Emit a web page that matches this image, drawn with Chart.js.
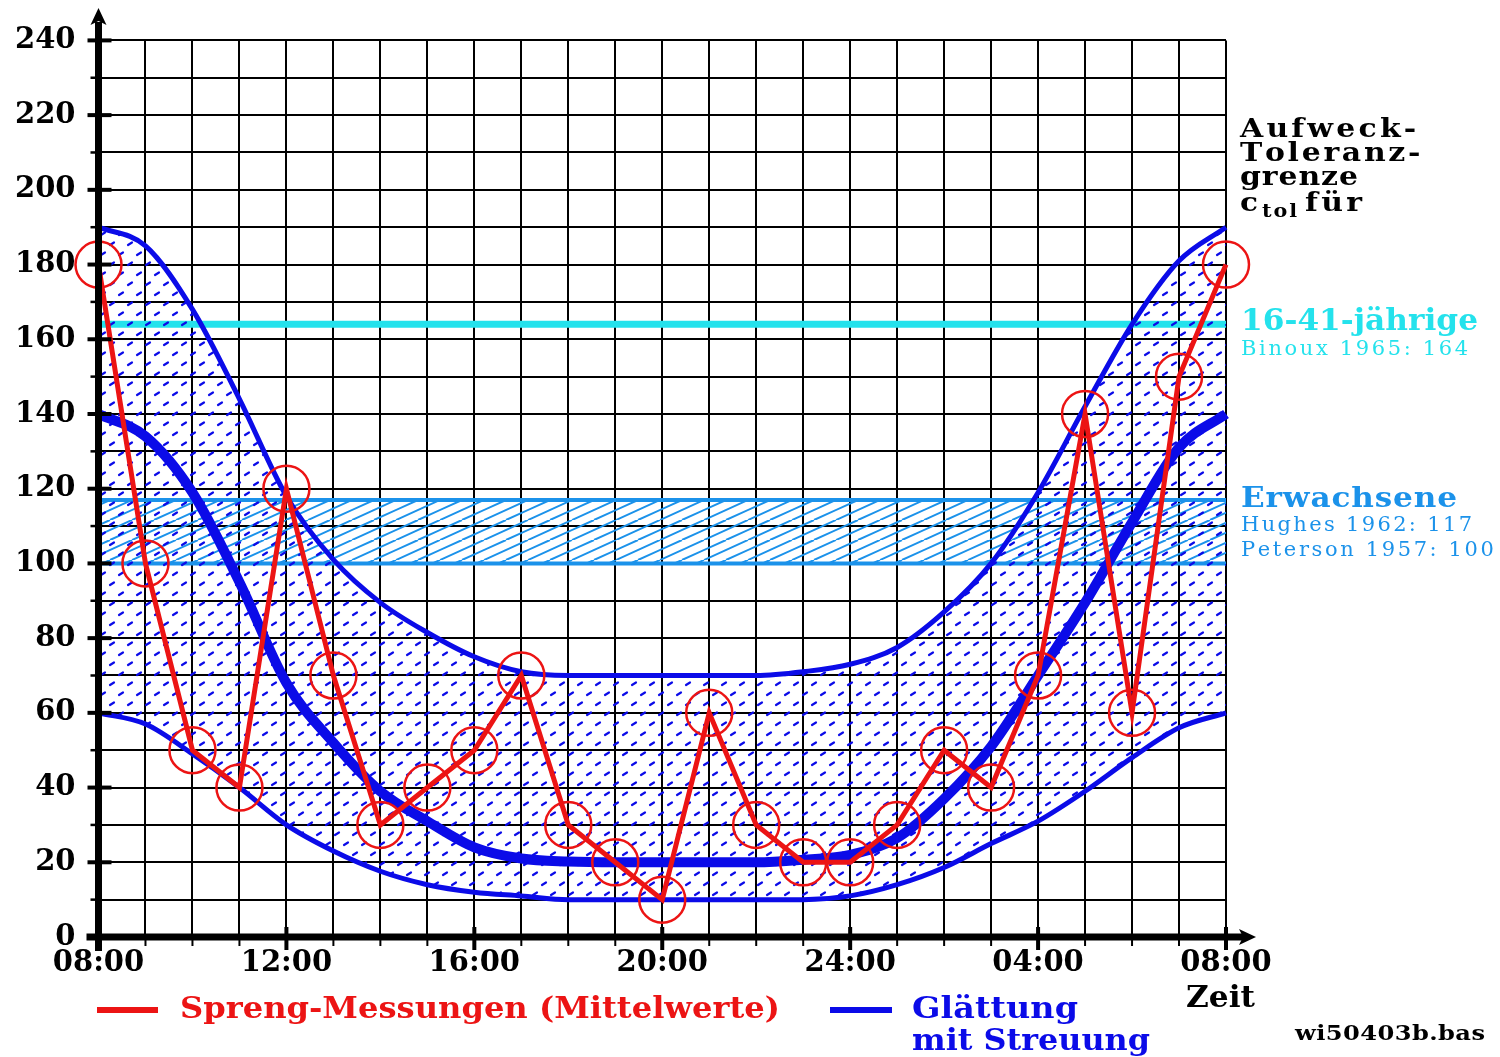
<!DOCTYPE html>
<html><head><meta charset="utf-8">
<script src="https://cdn.jsdelivr.net/npm/chart.js@4.4.1/dist/chart.umd.min.js"></script>
<style>html,body{margin:0;padding:0;background:#fff;overflow:hidden}canvas{display:block}</style>
</head><body>
<canvas id="c" width="1500" height="1057"></canvas>
<script>
// ---- data ----
const hours = [0,1,2,3,4,5,6,7,8,9,10,11,12,13,14,15,16,17,18,19,20,21,22,23,24];
const xTickLabels = ['08:00','12:00','16:00','20:00','24:00','04:00','08:00'];
const measured = [180,100,50,40,120,70,30,40,50,70,30,20,10,60,30,20,20,30,50,40,70,140,60,150,180];
const smoothMid = [140,134,119,95,68,52,39,31,24,21,20.2,20,20,20,20,20.7,22,26.5,37,51,70,89.5,111,131,140];
const smoothUpper = [190,185,168,144,118,101,89.5,81.5,75,71,70,70,70,70,70,71,73,77.5,87,100,119,142,164,181,190];
const smoothLower = [60,57,49,40,30,23,17.6,14,12,11,10,10,10,10,10,10,11,14,18.6,25,31,39,48,56,60];
const refYoung = 164;
const refAdultHigh = 117;
const refAdultLow = 100;

const RED = '#ec1414', BLUE = '#0b0be8', CYAN = '#24e2ec', SKY = '#1b92ea';
const pts = arr => hours.map((h,i)=>({x:h,y:arr[i]}));
const flat = v => [{x:hours[0],y:v},{x:hours[hours.length-1],y:v}];

function dotPattern(){
  const c=document.createElement('canvas'); c.width=18; c.height=20;
  const g=c.getContext('2d'); g.strokeStyle=BLUE; g.lineWidth=2.2; g.lineCap='round';
  g.beginPath();
  g.moveTo(2,5); g.lineTo(6,2.5);
  g.moveTo(11,15); g.lineTo(15,12.5);
  g.stroke();
  return g.createPattern(c,'repeat');
}
function hatchPattern(){
  const c=document.createElement('canvas'); c.width=44; c.height=20;
  const g=c.getContext('2d'); g.strokeStyle=SKY; g.lineWidth=2;
  g.beginPath();
  for (const off of [-66,-44,-22,0,22,44]) { g.moveTo(off,20); g.lineTo(off+44,0); }
  g.stroke();
  return g.createPattern(c,'repeat');
}

// draws text so that it spans the given width: glyphs widened a little, rest as letter spacing
function fitText(ctx, str, x, base, font, color, width, maxScale){
  ctx.save();
  ctx.font = font; ctx.fillStyle = color; ctx.textAlign='left'; ctx.textBaseline='alphabetic';
  const chars=[...str];
  const w=ctx.measureText(str).width;
  let sx = Math.min(Math.max(width/w, 0.85), maxScale===undefined ? 1.15 : maxScale);
  const extra = chars.length>1 ? (width - w*sx)/(chars.length-1) : 0;
  ctx.translate(x, base); ctx.scale(sx, 1);
  let cx=0;
  for (const ch of chars){ ctx.fillText(ch,cx,0); cx += ctx.measureText(ch).width + extra/sx; }
  ctx.restore();
}

const decor = {
  id:'decor',
  afterDraw(chart){
    const ctx=chart.ctx, xs=chart.scales.x, ys=chart.scales.y;
    const L=xs.getPixelForValue(0), R=xs.getPixelForValue(24), B=ys.getPixelForValue(0);
    ctx.save();
    ctx.strokeStyle='#000'; ctx.fillStyle='#000'; ctx.lineCap='butt';
    for (let v=0; v<=240; v+=10){
      const y=ys.getPixelForValue(v);
      ctx.beginPath();
      if (v%20===0){ ctx.lineWidth=4; ctx.moveTo(L-11,y); ctx.lineTo(L+13,y); }
      else { ctx.lineWidth=2.5; ctx.moveTo(L-8,y); ctx.lineTo(L,y); }
      ctx.stroke();
    }
    for (let h=0; h<=24; h++){
      const x=xs.getPixelForValue(h);
      ctx.beginPath();
      if (h%4===0){ ctx.lineWidth=4; ctx.moveTo(x,B-10); ctx.lineTo(x,B+13); }
      else { ctx.lineWidth=2; ctx.moveTo(x,B); ctx.lineTo(x,B+9); }
      ctx.stroke();
    }
    ctx.lineWidth=7;
    ctx.beginPath(); ctx.moveTo(L,B+14); ctx.lineTo(L,22); ctx.stroke();
    ctx.beginPath(); ctx.moveTo(L-12,B); ctx.lineTo(R+20,B); ctx.stroke();
    ctx.beginPath(); ctx.moveTo(L,8); ctx.lineTo(L+8,25); ctx.lineTo(L,21); ctx.lineTo(L-8,25); ctx.closePath(); ctx.fill();
    ctx.beginPath(); ctx.moveTo(R+30,B); ctx.lineTo(R+13,B-8); ctx.lineTo(R+17,B); ctx.lineTo(R+13,B+8); ctx.closePath(); ctx.fill();

    const SB="'DejaVu Serif'";
    fitText(ctx,'Aufweck-',1240,137,`bold 26px ${SB}`,'#000',175);
    fitText(ctx,'Toleranz-',1240,161,`bold 26px ${SB}`,'#000',177);
    fitText(ctx,'grenze',1240,185,`bold 26px ${SB}`,'#000',118);
    fitText(ctx,'c',1240,211,`bold 26px ${SB}`,'#000',18);
    fitText(ctx,'tol',1262,217,`bold 18px ${SB}`,'#000',35);
    fitText(ctx,'für',1305,211,`bold 26px ${SB}`,'#000',57);
    fitText(ctx,'16-41-jährige',1241,330,`bold 29px ${SB}`,CYAN,237);
    fitText(ctx,'Binoux 1965: 164',1241,355,`20px ${SB}`,CYAN,227,1.05);
    fitText(ctx,'Erwachsene',1241,507,`bold 27px ${SB}`,SKY,216);
    fitText(ctx,'Hughes 1962: 117',1241,531,`20px ${SB}`,SKY,231,1.05);
    fitText(ctx,'Peterson 1957: 100',1241,556,`20px ${SB}`,SKY,252,1.05);

    ctx.lineWidth=6; ctx.strokeStyle=RED;
    ctx.beginPath(); ctx.moveTo(97,1010); ctx.lineTo(158,1010); ctx.stroke();
    fitText(ctx,'Spreng-Messungen (Mittelwerte)',180,1018,`bold 29px ${SB}`,RED,600);
    ctx.strokeStyle=BLUE;
    ctx.beginPath(); ctx.moveTo(830,1010); ctx.lineTo(892,1010); ctx.stroke();
    fitText(ctx,'Glättung',912,1018,`bold 29px ${SB}`,BLUE,166);
    fitText(ctx,'mit Streuung',912,1050,`bold 29px ${SB}`,BLUE,238);
    fitText(ctx,'Zeit',1186,1007,`bold 29px ${SB}`,'#000',69);
    fitText(ctx,'wi50403b.bas',1295,1040,`bold 21px ${SB}`,'#000',190);
    ctx.restore();
  }
};

const tickFont = {family:'DejaVu Serif', size:29, weight:'bold'};
new Chart(document.getElementById('c').getContext('2d'), {
  type:'line',
  data:{datasets:[
    {data:pts(measured), borderColor:RED, borderWidth:5, tension:0, fill:false, clip:false,
     pointRadius:23, pointBorderWidth:2.5, pointBorderColor:RED, pointBackgroundColor:'rgba(0,0,0,0)', pointStyle:'circle', order:0},
    {data:pts(smoothMid), borderColor:BLUE, borderWidth:10, pointRadius:0, cubicInterpolationMode:'monotone', fill:false, clip:false, order:1},
    {data:pts(smoothUpper), borderColor:BLUE, borderWidth:5, pointRadius:0, cubicInterpolationMode:'monotone', fill:{target:'+1'}, backgroundColor:dotPattern(), clip:false, order:2},
    {data:pts(smoothLower), borderColor:BLUE, borderWidth:5, pointRadius:0, cubicInterpolationMode:'monotone', fill:false, clip:false, order:3},
    {data:flat(refAdultHigh), borderColor:SKY, borderWidth:4, pointRadius:0, fill:{target:'+1'}, backgroundColor:hatchPattern(), order:4},
    {data:flat(refAdultLow), borderColor:SKY, borderWidth:4, pointRadius:0, fill:false, order:5},
    {data:flat(refYoung), borderColor:CYAN, borderWidth:7, pointRadius:0, fill:false, order:6}
  ]},
  options:{
    responsive:false, animation:false, devicePixelRatio:1,
    layout:{padding:{left:0,right:274,top:36,bottom:0}},
    plugins:{legend:{display:false}, tooltip:{enabled:false}},
    scales:{
      x:{type:'linear', min:0, max:24, afterFit:s=>{s.height=120;},
         grid:{color:'#000', lineWidth:2, drawTicks:false}, border:{display:false},
         ticks:{stepSize:1, autoSkip:false, maxRotation:0, padding:9, color:'#000', font:tickFont,
                callback:v=>{const r=Math.round(v); return r%4===0 ? xTickLabels[r/4] : '';}}},
      y:{min:0, max:240, afterFit:s=>{s.width=98.5;},
         grid:{color:'#000', lineWidth:2, drawTicks:false}, border:{display:false},
         ticks:{stepSize:10, autoSkip:false, padding:23, color:'#000', font:tickFont,
                callback:v=>{const r=Math.round(v); return r%20===0 ? String(r) : '';}}}
    }
  },
  plugins:[decor]
});
</script>
</body></html>
